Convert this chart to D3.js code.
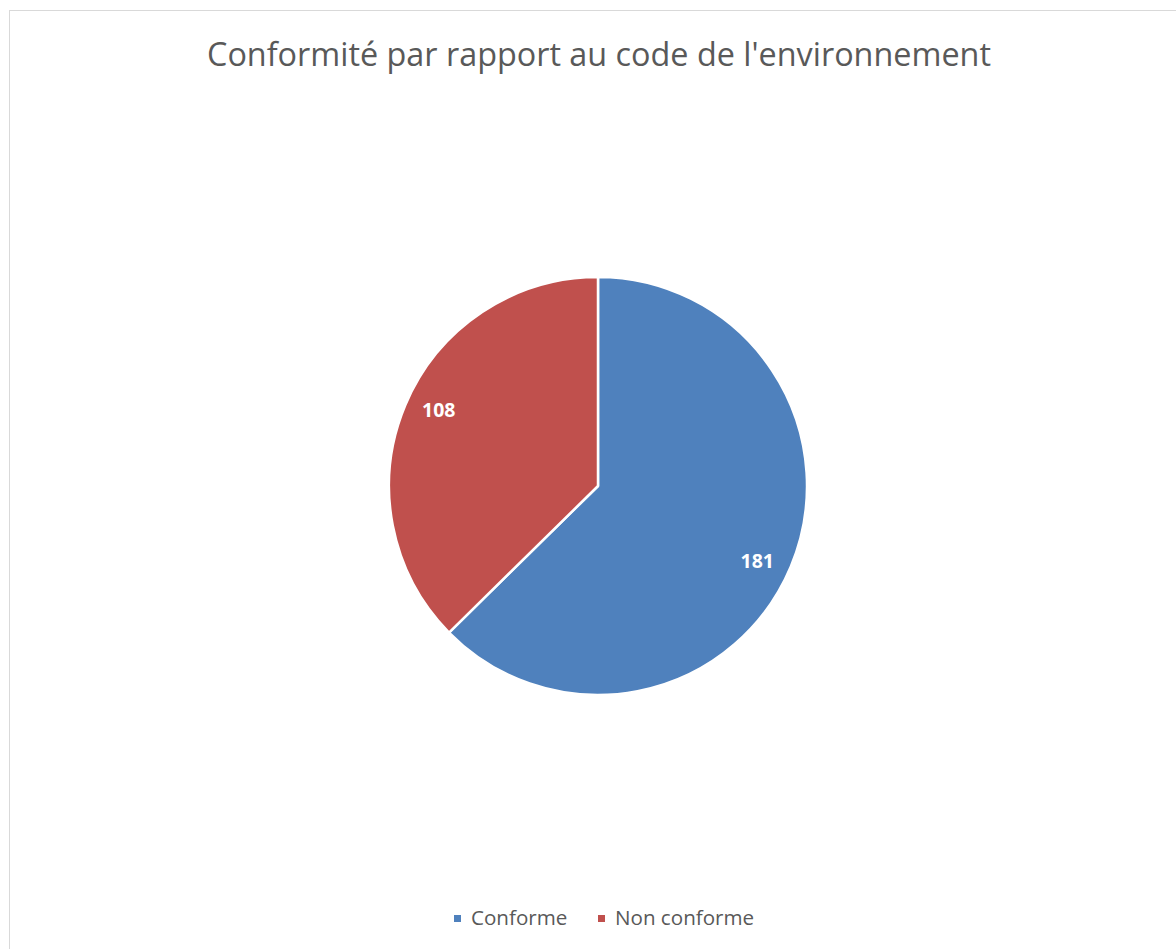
<!DOCTYPE html>
<html>
<head>
<meta charset="utf-8">
<script src="https://cdn.jsdelivr.net/npm/d3@7"></script>
<style>
  html, body { margin: 0; padding: 0; background: #ffffff; }
  svg { display: block; }
</style>
</head>
<body>
<svg id="chart" width="1176" height="949"></svg>
<script>
// Chart data
const categories = ["Conforme", "Non conforme"];
const values = [181, 108];
const colors = ["#4F81BD", "#C0504D"];
const titleText = "Conformité par rapport au code de l'environnement";

const W = 1176, H = 949;
const svg = d3.select("#chart");
const font = "'Open Sans', 'Noto Sans', sans-serif";

// chart area frame
svg.append("rect")
  .attr("x", 9.5).attr("y", 10.5)
  .attr("width", W).attr("height", H)
  .attr("fill", "#fff")
  .attr("stroke", "#d9d9d9").attr("stroke-width", 1);

// title, fitted to its width
const title = svg.append("text")
  .attr("x", 599).attr("y", 66)
  .attr("text-anchor", "middle")
  .attr("font-family", font)
  .attr("font-size", 32)
  .attr("fill", "#595959")
  .text(titleText);
const tw = title.node().getComputedTextLength();
title.attr("font-size", 32 * 784 / tw);

// pie
const cx = 598, cy = 486, r = 209;
const pie = d3.pie().sort(null).value(d => d.v).startAngle(0).endAngle(2 * Math.PI);
const data = categories.map((c, i) => ({ c, v: values[i], color: colors[i] }));
const arcs = pie(data);
const arc = d3.arc().innerRadius(0).outerRadius(r);

// data labels sit inside the slice, slightly past its mid-angle
const labelR = r * 0.843;
const labelShift = 2.6 * Math.PI / 180;
function labelPos(d) {
  const a = (d.startAngle + d.endAngle) / 2 + labelShift;
  return [labelR * Math.sin(a), -labelR * Math.cos(a)];
}

const g = svg.append("g").attr("transform", `translate(${cx},${cy})`);
g.selectAll("path.slice")
  .data(arcs)
  .join("path")
  .attr("class", "slice")
  .attr("d", arc)
  .attr("fill", d => d.data.color)
  .attr("stroke", "#fff")
  .attr("stroke-width", 2.5)
  .attr("stroke-linejoin", "round");

g.selectAll("text.lbl")
  .data(arcs)
  .join("text")
  .attr("class", "lbl")
  .attr("transform", d => `translate(${labelPos(d)})`)
  .attr("text-anchor", "middle")
  .attr("dy", "0.35em")
  .attr("font-family", font)
  .attr("font-weight", "bold")
  .attr("font-size", 19.5)
  .attr("fill", "#fff")
  .text(d => d.data.v);

// legend
const legendY = 918;
const legendItems = [
  { x: 454, tx: 471 },
  { x: 598, tx: 615 }
];
const lg = svg.append("g");
categories.forEach((c, i) => {
  lg.append("rect")
    .attr("x", legendItems[i].x).attr("y", legendY - 3)
    .attr("width", 7).attr("height", 7)
    .attr("fill", colors[i]);
  lg.append("text")
    .attr("x", legendItems[i].tx).attr("y", legendY)
    .attr("dy", "0.35em")
    .attr("font-family", font)
    .attr("font-size", 20.6)
    .attr("fill", "#595959")
    .text(c);
});
</script>
</body>
</html>
